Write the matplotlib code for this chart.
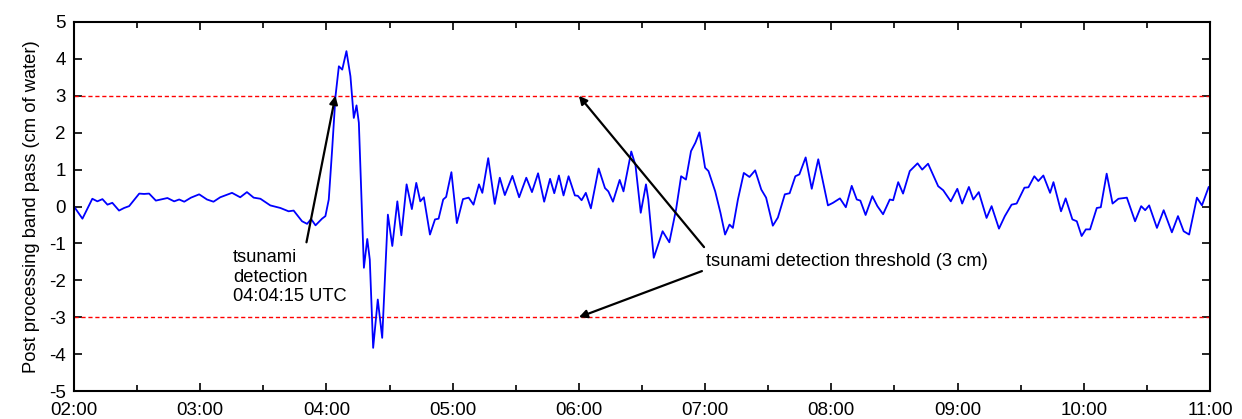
import matplotlib.pyplot as plt

plt.rcParams['font.family'] = ['Liberation Sans', 'DejaVu Sans']
plt.rcParams['axes.unicode_minus'] = False

# time in minutes after 02:00 UTC, band pass value in cm of water
minutes = [0, 4.0, 8.7, 11.1, 13.5, 15.9, 18.2, 21.4, 23.8, 26.2, 31.0, 33.3, 35.7, 38.9,
           41.3, 44.4, 47.6, 50.0, 52.4, 55.6, 59.5, 61.9, 63.2, 66.3, 69.5, 75.1, 79.0,
           82.2, 85.4, 88.6, 93.3, 98.1, 102.0, 104.4, 108.4, 110.8, 112.7, 114.8, 117.9,
           119.5, 121.1, 122.7, 124.3, 125.9, 127.5, 129.5, 131.4, 133.0, 134.3, 135.4,
           137.8, 139.4, 140.6, 142.2, 144.4, 146.5, 149.2, 151.3, 153.7, 155.6, 158.1,
           160.6, 162.7, 164.6, 166.3, 169.2, 171.6, 173.3, 175.5, 176.9, 179.4, 182.0,
           184.9, 187.6, 189.9, 192.5, 194.1, 196.9, 200.0, 202.4, 204.8, 208.4, 211.6,
           215.0, 217.7, 220.6, 223.5, 226.3, 228.3, 230.5, 232.7, 235.1, 238.1, 239.5,
           241.3, 243.3, 245.7, 249.4, 252.4, 254.0, 256.2, 259.4, 261.2, 264.9, 266.9,
           269.4, 271.9, 273.0, 275.6, 279.8, 283.0, 286.2, 288.6, 290.9, 293.3, 295.4,
           297.3, 298.9, 300.0, 301.6, 304.8, 307.3, 309.5, 311.6, 313.2, 315.6, 318.4,
           321.1, 323.8, 326.7, 329.0, 332.2, 334.6, 337.9, 340.2, 342.9, 344.8, 347.8,
           350.7, 353.8, 358.4, 360.8, 364.1, 366.9, 369.7, 372.1, 373.8, 376.3, 379.5,
           381.9, 384.6, 387.8, 389.4, 391.8, 394.1, 397.3, 401.0, 403.2, 406.0, 410.8,
           413.2, 416.8, 419.9, 422.2, 425.4, 427.5, 430.1, 433.8, 436.2, 439.7, 442.5,
           445.7, 448.1, 451.8, 453.7, 456.5, 458.4, 460.8, 464.0, 465.6, 469.2, 471.4,
           474.6, 476.7, 479.0, 481.0, 483.0, 486.2, 488.1, 490.9, 493.7, 496.5, 500.5,
           504.4, 507.3, 509.2, 511.1, 514.8, 518.0, 521.9, 524.8, 527.5, 530.1, 533.8,
           536.2, 539.4, 540.0]
band_pass = [0.0, -0.33, 0.21, 0.14, 0.2, 0.05, 0.1, -0.11, -0.04, 0.01, 0.35, 0.34, 0.35, 0.16,
             0.19, 0.23, 0.14, 0.19, 0.13, 0.24, 0.33, 0.24, 0.19, 0.13, 0.25, 0.37, 0.25,
             0.39, 0.24, 0.21, 0.03, -0.04, -0.13, -0.11, -0.4, -0.47, -0.34, -0.51, -0.33,
             -0.26, 0.19, 1.54, 2.99, 3.8, 3.71, 4.21, 3.53, 2.4, 2.74, 2.27,
             -1.66, -0.88, -1.44, -3.83, -2.52, -3.56, -0.22, -1.07, 0.14, -0.78, 0.6,
             -0.07, 0.64, 0.14, 0.25, -0.76, -0.35, -0.33, 0.19, 0.26, 0.93, -0.45,
             0.2, 0.24, 0.05, 0.6, 0.37, 1.31, 0.07, 0.78, 0.31, 0.83, 0.25,
             0.78, 0.39, 0.9, 0.13, 0.75, 0.36, 0.84, 0.3, 0.82, 0.3, 0.29,
             0.17, 0.37, -0.05, 1.03, 0.5, 0.41, 0.13, 0.72, 0.41, 1.49, 1.12,
             -0.17, 0.6, 0.19, -1.39, -0.67, -0.97, -0.08, 0.82, 0.73, 1.5, 1.73,
             2.01, 1.45, 1.05, 0.96, 0.41, -0.17, -0.76, -0.49, -0.58, 0.19, 0.91,
             0.8, 0.98, 0.46, 0.24, -0.52, -0.3, 0.33, 0.36, 0.82, 0.87, 1.33,
             0.48, 1.28, 0.03, 0.1, 0.22, -0.02, 0.56, 0.19, 0.16, -0.23, 0.28,
             0.01, -0.21, 0.19, 0.17, 0.66, 0.35, 0.96, 1.17, 1.0, 1.16, 0.55,
             0.44, 0.14, 0.48, 0.08, 0.53, 0.19, 0.39, -0.31, 0.01, -0.6, -0.26,
             0.05, 0.08, 0.51, 0.52, 0.82, 0.69, 0.84, 0.37, 0.66, -0.13, 0.22,
             -0.35, -0.4, -0.8, -0.62, -0.62, -0.04, -0.02, 0.89, 0.08, 0.21, 0.24,
             -0.4, 0.01, -0.1, 0.03, -0.58, -0.1, -0.7, -0.26, -0.67, -0.76, 0.24,
             0.03, 0.53, 0.48]

hours = [m / 60 + 2 for m in minutes]
threshold = 3
hour_ticks = list(range(2, 12))
hour_labels = ['%02d:00' % h for h in hour_ticks]
detect_time = 2 + 124.25 / 60  # 04:04:15

fig = plt.figure(figsize=(12.42, 4.19), dpi=100)
ax = fig.add_axes([0.0596, 0.0668, 0.9146, 0.8807])

ax.axhline(threshold, color='red', lw=1, ls=(0, (3, 2)))
ax.axhline(-threshold, color='red', lw=1, ls=(0, (3, 2)))
ax.plot(hours, band_pass, color='blue', lw=1.3)

ax.set_xlim(2, 11)
ax.set_ylim(-5, 5)
ax.set_xticks(hour_ticks)
ax.set_xticklabels(hour_labels)
ax.set_xticks([h + 0.5 for h in hour_ticks[:-1]], minor=True)
ax.set_yticks(range(-5, 6))
ax.tick_params(which='both', direction='in', top=True, right=True, labelsize=13.5, width=1.2)
ax.tick_params(which='major', length=6)
ax.tick_params(which='minor', length=4)
ax.tick_params(axis='x', pad=8)
ax.tick_params(axis='y', pad=6)
for s in ax.spines.values():
    s.set_linewidth(1.5)
ax.set_ylabel('Post processing band pass (cm of water)', fontsize=13.2, labelpad=6)

arrow = dict(arrowstyle='-|>', color='black', lw=1.6, mutation_scale=12, shrinkA=0, shrinkB=0)
ax.annotate('', xy=(detect_time, threshold), xytext=(2 + 110.5 / 60, -0.97), arrowprops=arrow)
ax.text(2 + 75.5 / 60, -1.15, 'tsunami\ndetection\n04:04:15 UTC', fontsize=13.2,
        va='top', ha='left', linespacing=1.2)

ax.annotate('', xy=(6, threshold), xytext=(2 + 299.5 / 60, -1.1), arrowprops=arrow)
ax.annotate('', xy=(6, -threshold), xytext=(2 + 298.5 / 60, -1.75), arrowprops=arrow)
ax.text(2 + 300.5 / 60, -1.5, 'tsunami detection threshold (3 cm)', fontsize=13.2,
        va='center', ha='left')

fig.savefig('out.png', dpi=100)
